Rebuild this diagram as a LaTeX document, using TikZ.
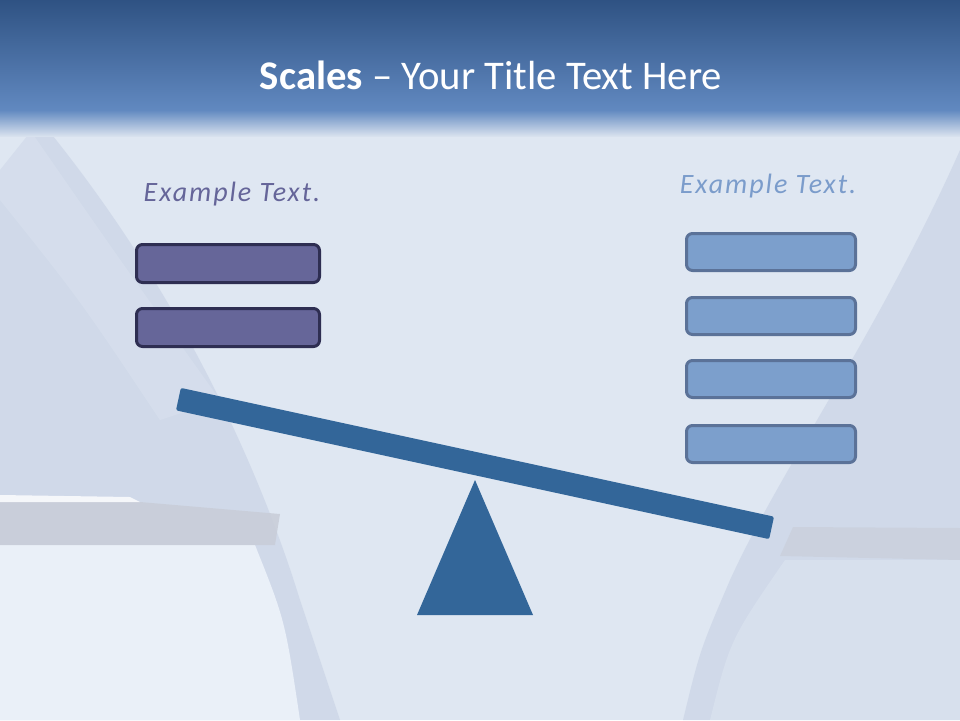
\documentclass[tikz,border=0pt]{standalone}
\usepackage{fontspec}
\setmainfont{Carlito}
\usetikzlibrary{shapes.geometric}
\definecolor{bgmain}{HTML}{DFE7F2}
\definecolor{bgtop}{HTML}{2F5283}
\definecolor{bgmid}{HTML}{6189C0}
\definecolor{bgfade}{HTML}{D8E1EE}
\definecolor{wedge}{HTML}{CDD6E7}
\definecolor{bandgrey}{HTML}{C8CDD8}
\definecolor{lightarea}{HTML}{EAF0F8}
\definecolor{leftfill}{HTML}{666699}
\definecolor{leftline}{HTML}{2E2E52}
\definecolor{rightfill}{HTML}{7C9FCC}
\definecolor{rightline}{HTML}{5B7298}
\definecolor{lefttext}{HTML}{656599}
\definecolor{righttext}{HTML}{7B9CCB}
\definecolor{scaleblue}{HTML}{336699}
\tikzset{
  leftbox/.style={draw=leftline, fill=leftfill, line width=3pt, rounded corners=6pt,
    minimum width=183pt, minimum height=38pt, inner sep=0pt},
  rightbox/.style={draw=rightline, fill=rightfill, line width=3pt, rounded corners=6pt,
    minimum width=169pt, minimum height=37pt, inner sep=0pt},
  exlabel/.style={font=\fontsize{28}{32}\selectfont\itshape\addfontfeatures{LetterSpace=7}, inner sep=0pt},
  beamstyle/.style={fill=scaleblue, rounded corners=2pt, minimum width=607pt,
    minimum height=23pt, inner sep=0pt, rotate=-12.25}
}
\begin{document}
\begin{tikzpicture}[x=1pt,y=-1pt]
\useasboundingbox (0,0) rectangle (960,720);
% background
\fill[bgmain] (0,0) rectangle (960,720);
% left wedge
\fill[wedge, opacity=0.8] (0,170) -- (40,120) .. controls (180,290) and (260,470) .. (300,600)
  .. controls (320,660) .. (340,720) -- (0,720) -- cycle;
\fill[bgmain, opacity=0.35] (0,150) -- (30,130) .. controls (120,260) .. (220,400) -- (160,420) .. controls (80,300) .. (0,200) -- cycle;
% right wedge
\fill[wedge, opacity=0.8] (960,150) .. controls (880,330) and (780,470) .. (730,580)
  .. controls (700,650) .. (683,720) -- (960,720) -- cycle;
% lower light areas
\fill[lightarea] (0,545) -- (255,545) .. controls (285,620) .. (300,720) -- (0,720) -- cycle;
\fill[bandgrey, opacity=0.85] (0,502) -- (140,502) -- (280,514) -- (275,545) -- (0,545) -- cycle;
\fill[white, opacity=0.8] (0,495) -- (130,497) -- (140,502) -- (0,502) -- cycle;
\fill[bandgrey, opacity=0.6] (793,527) -- (960,528) -- (960,560) -- (780,556) -- cycle;
\fill[bgmain, opacity=0.5] (785,560) -- (960,560) -- (960,720) -- (710,720) .. controls (730,640) .. (785,560) -- cycle;
% top band
\shade[top color=bgtop, bottom color=bgmid] (0,0) rectangle (960,110);
\shade[top color=bgmid, bottom color=bgfade] (0,110) rectangle (960,136);
% title
\node[text=white, font=\fontsize{40.7}{46}\selectfont, inner sep=0pt] (title) at (491,75)
  {\textbf{Scales} – Your Title Text Here};
% labels
\node[exlabel, text=lefttext] (ltext) at (232,194) {Example Text.};
\node[exlabel, text=righttext] (rtext) at (768,186) {Example Text.};
% left boxes
\node[leftbox] (l1) at (228,263.5) {};
\node[leftbox] (l2) at (228,327.5) {};
% right boxes
\node[rightbox] (r1) at (771,252) {};
\node[rightbox] (r2) at (771,316) {};
\node[rightbox] (r3) at (771,379) {};
\node[rightbox] (r4) at (771,444) {};
% fulcrum
\coordinate (apex) at (475,480);
\coordinate (bl) at (417,615);
\coordinate (br) at (533,615);
\fill[scaleblue] (apex) -- (br) -- (bl) -- cycle;
% beam
\node[beamstyle] (beam) at (475,463.5) {};
\end{tikzpicture}
\end{document}
